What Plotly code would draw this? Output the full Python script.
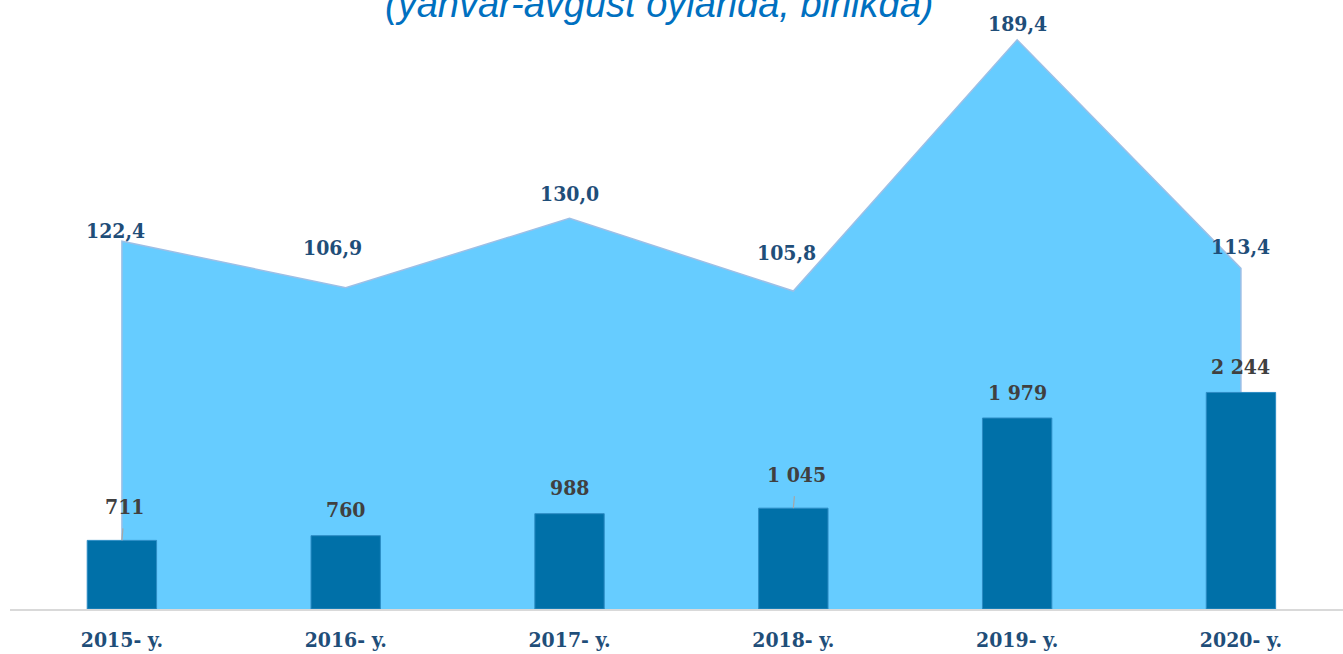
import plotly.graph_objects as go

years = ["2015- y.", "2016- y.", "2017- y.", "2018- y.", "2019- y.", "2020- y."]
bar_values = [711, 760, 988, 1045, 1979, 2244]
bar_labels = ["711", "760", "988", "1 045", "1 979", "2 244"]
growth_values = [122.4, 106.9, 130.0, 105.8, 189.4, 113.4]
growth_labels = ["122,4", "106,9", "130,0", "105,8", "189,4", "113,4"]
title_text = "(yanvar-avgust oylarida, birlikda)"

# styling (pixel offsets for labels)
growth_dx = [-6, -13, 0, -7, 0, 0]
growth_dy = [11, 40, 25, 39, 16, 22]
bar_leader = [True, False, False, True, False, False]

W, H = 1343, 654
ML, MR, MT, MB = 10, 0, 20, 45
plot_h = H - MT - MB

LABEL_FONT = "DejaVu Serif Condensed"
FS = 21
AREA_FILL = "#66CCFF"
AREA_LINE = "#9DBFE6"
BAR_COLOR = "#0070A8"

idx = list(range(len(years)))

fig = go.Figure()

# area (primary axis), drawn as closed polygon from baseline
ax_x = [idx[0]] + idx + [idx[-1]]
ax_y = [0] + growth_values + [0]
fig.add_trace(go.Scatter(
    x=ax_x, y=ax_y, mode="lines", fill="toself", fillcolor=AREA_FILL,
    line=dict(color=AREA_LINE, width=1.5), yaxis="y", hoverinfo="skip",
    showlegend=False,
))

# bars on overlaying axis so they are drawn above the area
fig.add_trace(go.Bar(
    x=idx, y=bar_values, width=0.31, yaxis="y2",
    marker=dict(color=BAR_COLOR, line=dict(color="#2C8CC4", width=1)),
    showlegend=False,
))

annotations = []
for i, v in enumerate(growth_values):
    annotations.append(dict(
        x=idx[i], y=v, yref="y", xref="x", text=growth_labels[i],
        showarrow=False, xshift=growth_dx[i], yshift=growth_dy[i],
        yanchor="middle", xanchor="center",
        font=dict(family=LABEL_FONT, size=FS, color="#1F4E79", weight="bold"),
    ))

for i, v in enumerate(bar_values):
    if bar_leader[i]:
        annotations.append(dict(
            x=idx[i], y=v, xref="x", yref="y2", text=bar_labels[i],
            showarrow=True, arrowhead=0, arrowwidth=1.2, arrowcolor="#A6A6A6",
            ax=3, ay=-34, standoff=0, startstandoff=8,
            font=dict(family=LABEL_FONT, size=FS, color="#404040", weight="bold"),
        ))
    else:
        annotations.append(dict(
            x=idx[i], y=v, xref="x", yref="y2", text=bar_labels[i],
            showarrow=False, yshift=26, yanchor="middle",
            font=dict(family=LABEL_FONT, size=FS, color="#404040", weight="bold"),
        ))

annotations.append(dict(
    x=(659 - ML) / (W - ML - MR), y=1 + (MT - 4) / plot_h, xref="paper", yref="paper",
    text=title_text, showarrow=False, xanchor="center", yanchor="middle",
    font=dict(family="Liberation Sans", size=38, color="#0070C0", style="italic"),
))

k = 0.0965  # px per unit for bar axis
fig.update_layout(
    width=W, height=H, margin=dict(l=ML, r=MR, t=MT, b=MB),
    paper_bgcolor="white", plot_bgcolor="white",
    bargap=0.69,
    xaxis=dict(
        tickmode="array", tickvals=idx, ticktext=years,
        range=[-0.5, 5.456], showgrid=False, zeroline=False,
        showline=True, linecolor="#D9D9D9", linewidth=2,
        ticks="", ticklabelstandoff=11,
        tickfont=dict(family=LABEL_FONT, size=FS, color="#1F4E79", weight="bold"),
    ),
    yaxis=dict(range=[0, plot_h / 3.005], visible=False, showgrid=False),
    yaxis2=dict(range=[0, plot_h / k], overlaying="y", side="right",
                visible=False, showgrid=False),
    annotations=annotations,
)

fig.write_html("out.html", config={"displayModeBar": False},
               post_script="document.body.style.margin='0';")
